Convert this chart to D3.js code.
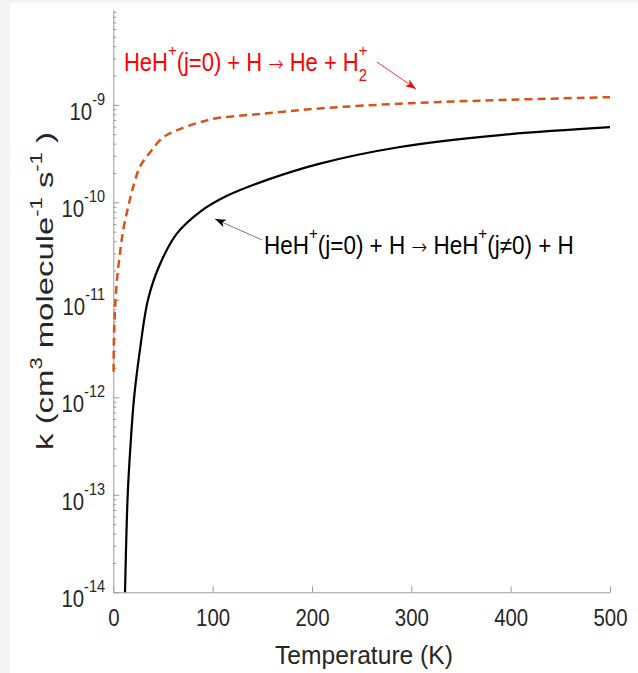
<!DOCTYPE html>
<html>
<head>
<meta charset="utf-8">
<script src="https://cdn.jsdelivr.net/npm/d3@7"></script>
<style>
  body { margin: 0; background: #fff; }
  text { font-family: "Liberation Sans", Arial, Helvetica, sans-serif; }
</style>
</head>
<body>
<svg id="chart" width="638" height="673"></svg>
<script>
// Rate coefficient for HeH+(j=0) + H -> HeH+(j!=0) + H (inelastic)
const tempInelastic = [11.8, 14.5, 17.3, 20.8, 26.9, 34.9, 46, 64.1, 87.3, 112.4, 157.7, 208, 288.6, 389.3, 500];
const kInelastic = [1.0e-14, 1.0e-13, 3.2e-13, 9.6e-13, 3.1e-12, 1.0e-11, 2.2e-11, 4.8e-11, 8.0e-11,
                    1.14e-10, 1.74e-10, 2.5e-10, 3.7e-10, 4.9e-10, 5.9e-10];

// Rate coefficient for HeH+(j=0) + H -> He + H2+ (reactive)
const tempReactive = [0.3, 0.6, 1.7, 3.4, 6.7, 10, 15.1, 20.1, 26.9, 36.9, 50.3, 63.8, 84, 104, 137.6, 171, 208, 298.7, 389, 500];
const kReactive = [1.83e-12, 3.9e-12, 7.9e-12, 1.48e-11, 3.0e-11, 5.2e-11, 9.1e-11, 1.45e-10, 2.33e-10, 3.25e-10,
                   4.65e-10, 5.47e-10, 6.49e-10, 7.3e-10, 7.9e-10, 8.5e-10, 9.2e-10, 1.04e-9, 1.12e-9, 1.2e-9];

const xTickValues = [0, 100, 200, 300, 400, 500];
const yDecadeExponents = [-14, -13, -12, -11, -10, -9];

const svg = d3.select("#chart");
const W = 638, H = 673;

// page frame
svg.append("rect").attr("width", W).attr("height", H).attr("fill", "#f4f4f4");
svg.append("rect").attr("x", 10).attr("y", 3).attr("width", W - 10).attr("height", H - 3).attr("fill", "#fff");

const plot = { left: 113.3, right: 610, top: 10, bottom: 592.3 };
const x = d3.scaleLinear().domain([0, 500]).range([plot.left, plot.right]);
const y = d3.scaleLog().domain([1e-14, 9.4e-9]).range([plot.bottom, plot.top]);

const axisColor = "#9a9a9a";
const textColor = "#262626";
const narrow = 0.85; // horizontal squeeze for tick labels

// x axis
const gx = svg.append("g").attr("transform", `translate(0,${plot.bottom})`)
  .call(d3.axisBottom(x).tickValues(xTickValues).tickSizeInner(-6).tickSizeOuter(0).tickPadding(17));
gx.select(".domain").attr("stroke", axisColor);
gx.selectAll(".tick line").attr("stroke", axisColor);
gx.selectAll(".tick text").attr("fill", textColor).attr("font-size", 24)
  .attr("font-family", "Liberation Sans, Arial, sans-serif")
  .attr("transform", `scale(${narrow},1)`);

// y axis (log) with minor ticks
const yTickValues = [];
yDecadeExponents.forEach(e => {
  for (let m = 1; m <= 9; m++) yTickValues.push(m * Math.pow(10, e));
});
const gy = svg.append("g").attr("transform", `translate(${plot.left},0)`)
  .call(d3.axisLeft(y).tickValues(yTickValues).tickSizeInner(-3).tickSizeOuter(0).tickFormat(""));
gy.select(".domain").attr("stroke", axisColor);
gy.selectAll(".tick line").attr("stroke", axisColor)
  .attr("x2", (d, i) => (i % 9 === 0 ? 6 : 3));

// decade labels 10^n
yDecadeExponents.forEach(e => {
  const yy = y(Math.pow(10, e));
  const t = svg.append("text")
    .attr("transform", `translate(105,${yy + 15}) scale(${narrow},1)`)
    .attr("text-anchor", "end").attr("fill", textColor).attr("font-size", 24);
  t.append("tspan").text("10");
  t.append("tspan").attr("dy", -15).attr("font-size", 17).text(String(e));
});

// fit a text element to a given advance width by squeezing/stretching along its baseline
function fitWidth(sel, target) {
  const len = sel.node().getComputedTextLength();
  return target / len;
}

// axis titles
const xlab = svg.append("text")
  .attr("text-anchor", "middle").attr("fill", textColor).attr("font-size", 26)
  .text("Temperature (K)");
xlab.attr("transform", `translate(364,663.5) scale(${fitWidth(xlab, 178)},1)`);

const ylab = svg.append("text")
  .attr("text-anchor", "middle").attr("fill", textColor).attr("font-size", 24);
ylab.append("tspan").text("k (cm");
ylab.append("tspan").attr("dy", -11).attr("font-size", 16).text("3");
ylab.append("tspan").attr("dy", 11).text(" molecule");
ylab.append("tspan").attr("dy", -11).attr("font-size", 16).text("-1");
ylab.append("tspan").attr("dy", 11).text(" s");
ylab.append("tspan").attr("dy", -11).attr("font-size", 16).text("-1");
ylab.append("tspan").attr("dy", 11).text(" )");
ylab.attr("transform", `translate(53,291) rotate(-90) scale(${fitWidth(ylab, 318)},1)`);

// curves
const line = d3.line().x(d => x(d[0])).y(d => y(d[1])).curve(d3.curveCatmullRom.alpha(0.5));

svg.append("path")
  .datum(tempReactive.map((t, i) => [t, kReactive[i]]))
  .attr("fill", "none").attr("stroke", "#D95319").attr("stroke-width", 2.5)
  .attr("stroke-dasharray", "8,5")
  .attr("d", line);

svg.append("path")
  .datum(tempInelastic.map((t, i) => [t, kInelastic[i]]))
  .attr("fill", "none").attr("stroke", "#000").attr("stroke-width", 2.2)
  .attr("d", line);

// arrow heads
const defs = svg.append("defs");
function arrowHead(id, color) {
  defs.append("marker").attr("id", id)
    .attr("markerUnits", "userSpaceOnUse")
    .attr("markerWidth", 12).attr("markerHeight", 10)
    .attr("refX", 11).attr("refY", 4).attr("orient", "auto")
    .append("path").attr("d", "M0,0 L11,4 L0,8 L3,4 Z").attr("fill", color);
}
arrowHead("headRed", "#ff0000");
arrowHead("headBlack", "#000");

function reactionArrow(t) {
  t.append("tspan").attr("font-family", "DejaVu Sans").attr("font-weight", 200)
    .attr("font-size", 21).text("\u2192");
}

// reactive channel annotation
const redLabel = svg.append("text").attr("fill", "#ff0000").attr("font-size", 25);
redLabel.append("tspan").text("HeH");
redLabel.append("tspan").attr("dy", -15).attr("font-size", 17).text("+");
redLabel.append("tspan").attr("dy", 15).text("(j=0) + H ");
reactionArrow(redLabel);
redLabel.append("tspan").text(" He + H");
redLabel.append("tspan").attr("dy", 10).attr("font-size", 17).text("2");
redLabel.append("tspan").attr("dx", -9.5).attr("dy", -25).attr("font-size", 17).text("+");
redLabel.attr("transform", `translate(124,71) scale(${fitWidth(redLabel, 252)},1)`);

svg.append("line")
  .attr("x1", 377).attr("y1", 62).attr("x2", 416).attr("y2", 89)
  .attr("stroke", "#ff0000").attr("stroke-width", 0.8)
  .attr("marker-end", "url(#headRed)");

// inelastic channel annotation
const blackLabel = svg.append("text").attr("fill", "#000").attr("font-size", 25);
blackLabel.append("tspan").text("HeH");
blackLabel.append("tspan").attr("dy", -15).attr("font-size", 17).text("+");
blackLabel.append("tspan").attr("dy", 15).text("(j=0) + H ");
reactionArrow(blackLabel);
blackLabel.append("tspan").text(" HeH");
blackLabel.append("tspan").attr("dy", -15).attr("font-size", 17).text("+");
blackLabel.append("tspan").attr("dy", 15).text("(j\u22600) + H");
blackLabel.attr("transform", `translate(264,254) scale(${fitWidth(blackLabel, 310)},1)`);

svg.append("line")
  .attr("x1", 262).attr("y1", 240).attr("x2", 215).attr("y2", 219)
  .attr("stroke", "#555").attr("stroke-width", 0.8)
  .attr("marker-end", "url(#headBlack)");
</script>
</body>
</html>
